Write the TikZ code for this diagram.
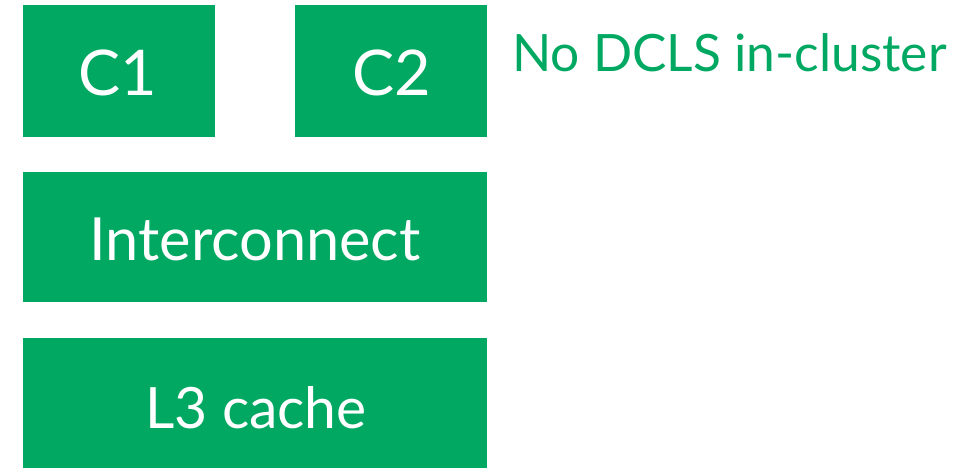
\documentclass[tikz,border=0pt]{standalone}
\usepackage{fontspec}
\setmainfont{Lato}
\definecolor{armgreen}{HTML}{00A862}
\begin{document}
\begin{tikzpicture}[x=1pt,y=-1pt,
  blk/.style={fill=armgreen,draw=none},
  lbl/.style={text=white,inner sep=0pt,anchor=base}]
\useasboundingbox (0,0) rectangle (969,467);
\fill[blk] (22.5,5) rectangle (215,137);
\fill[blk] (295,5) rectangle (487,137);
\fill[blk] (22.5,171.5) rectangle (487,302);
\fill[blk] (22.5,338) rectangle (487,469);
\node[lbl,font=\fontsize{63}{63}\selectfont] (c1) at (118,95) {C1};
\node[lbl,font=\fontsize{63}{63}\selectfont] (c2) at (392,95) {C2};
\node[lbl,font=\fontsize{59.5}{59.5}\selectfont] (ic) at (255,260) {Interconnect};
\node[lbl,font=\fontsize{57}{57}\selectfont] (l3) at (256,428) {L3 cache};
\node[inner sep=0pt,anchor=base west,text=armgreen,font=\fontsize{51.5}{51.5}\selectfont] (nd) at (512,71) {No DCLS in-cluster};
\end{tikzpicture}
\end{document}
